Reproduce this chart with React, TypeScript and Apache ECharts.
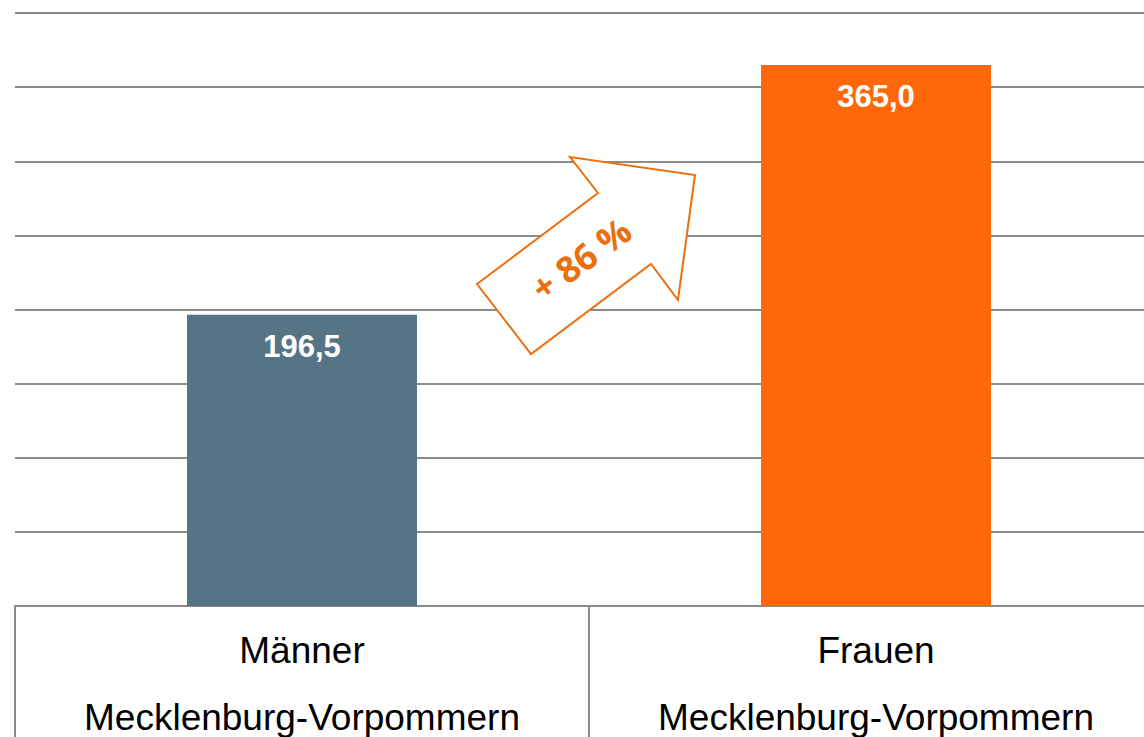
import React, { useEffect, useRef } from "react";
import * as echarts from "echarts";

const categories = ["Männer\nMecklenburg-Vorpommern", "Frauen\nMecklenburg-Vorpommern"];
const values = [196.5, 365.0];
const barColors = ["#557586", "#FF680A"];
const changeLabel = "+ 86 %";

export default function App() {
  const ref = useRef<HTMLDivElement>(null);
  useEffect(() => {
    document.body.style.margin = "0";
    const chart = echarts.init(ref.current!, null, { renderer: "svg" });
    chart.setOption({
      animation: false,
      grid: { left: 15, top: 13, width: 1148, height: 593, containLabel: false, outerBoundsMode: "none" },
      xAxis: {
        type: "category",
        data: categories,
        axisLine: { show: true, lineStyle: { color: "#8a8a8a", width: 2 } },
        axisTick: { show: true, length: 135, lineStyle: { color: "#8a8a8a", width: 2 } },
        axisLabel: {
          color: "#000",
          fontFamily: "Liberation Sans, Arial, sans-serif",
          fontSize: 37,
          lineHeight: 67,
          margin: 11,
          interval: 0,
        },
      },
      yAxis: {
        type: "value",
        min: 0,
        max: 400,
        interval: 50,
        axisLabel: { show: false },
        axisLine: { show: false },
        axisTick: { show: false },
        splitLine: { lineStyle: { color: "#8c8c8c", width: 2 } },
      },
      series: [
        {
          type: "bar",
          barWidth: 230,
          data: values.map((v, i) => ({ value: v, itemStyle: { color: barColors[i] } })),
          label: {
            show: true,
            position: "insideTop",
            distance: 16,
            color: "#fff",
            fontWeight: "bold",
            fontSize: 31,
            fontFamily: "Liberation Sans, Arial, sans-serif",
            formatter: (p: any) => Number(p.value).toFixed(1).replace(".", ","),
          },
        },
      ],
      graphic: [
        {
          type: "polygon",
          shape: {
            points: [
              [477, 284],
              [598, 193],
              [570, 157],
              [695, 175],
              [678, 300],
              [651, 264],
              [531, 354],
            ],
          },
          style: { fill: "#fff", stroke: "#E8700F", lineWidth: 2 },
          z: 100,
        },
        {
          type: "text",
          x: 581,
          y: 259,
          rotation: (36 * Math.PI) / 180,
          style: {
            text: changeLabel,
            fill: "#E8700F",
            font: "bold 36px 'Open Sans', sans-serif",
            align: "center",
            verticalAlign: "middle",
          },
          z: 101,
        },
      ],
    });
    return () => chart.dispose();
  }, []);
  return <div ref={ref} style={{ position: "absolute", left: 0, top: 0, width: 1144, height: 737 }} />;
}
